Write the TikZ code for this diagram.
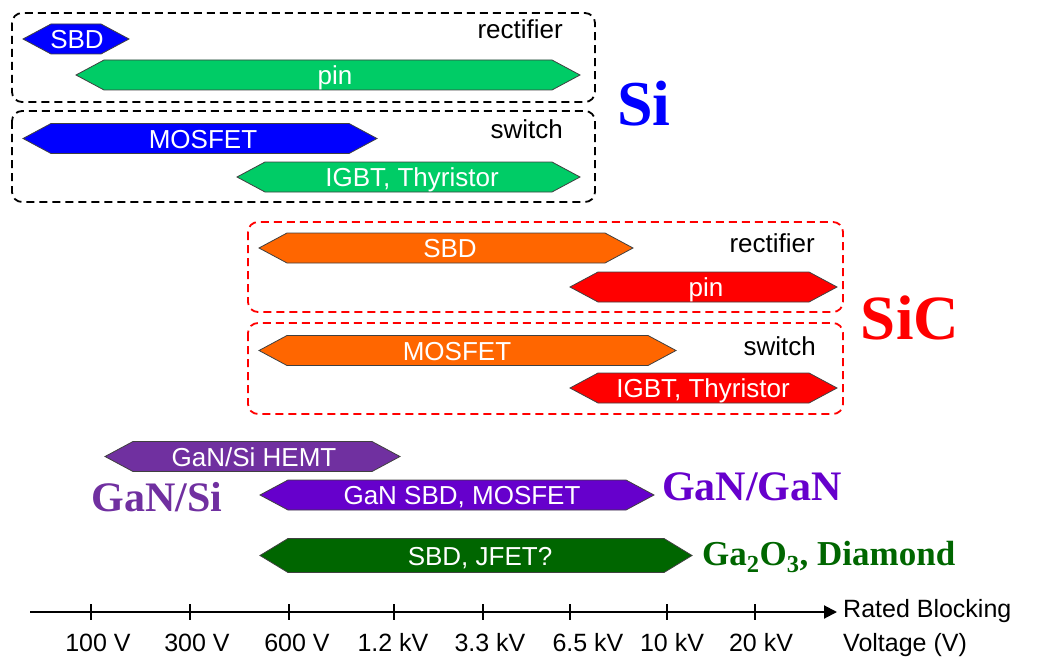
\documentclass[tikz,border=0pt]{standalone}
\usepackage{fontspec}
\setmainfont{Liberation Sans}
\newfontfamily\tms{Liberation Serif}
\usetikzlibrary{arrows.meta}
\definecolor{sib}{RGB}{0,0,255}
\definecolor{sig}{RGB}{0,204,102}
\definecolor{sico}{RGB}{255,102,0}
\definecolor{sicr}{RGB}{255,0,0}
\definecolor{gsi}{RGB}{112,48,160}
\definecolor{ggan}{RGB}{102,0,204}
\definecolor{gox}{RGB}{0,102,0}
\newcommand{\bpd}{28}
% #1 half height, #2 name, #3 left tip, #4 right tip, #5 y centre, #6 colour, #7 text, #8 text x
\newcommand{\devbar}[8][15]{%
  \filldraw[barshape, fill=#6] (#3,#5) -- ({#3+\bpd},{#5-#1}) -- ({#4-\bpd},{#5-#1}) -- (#4,#5)
     -- ({#4-\bpd},{#5+#1}) -- ({#3+\bpd},{#5+#1}) -- cycle;
  \node[bartext] (#2) at (#8,{#5+9.5}) {#7};}
\tikzset{
  barshape/.style={draw=black!75, line width=0.8pt},
  bartext/.style={anchor=base, inner sep=0pt, text=white, font=\fontsize{26}{30}\selectfont},
  grouplab/.style={anchor=base east, inner sep=0pt, font=\fontsize{26}{30}\selectfont},
  sibox/.style={draw=black, line width=1.8pt, dash pattern=on 8pt off 5pt, rounded corners=10pt},
  sicbox/.style={draw=sicr, line width=1.8pt, dash pattern=on 8pt off 5pt, rounded corners=10pt},
  matlab/.style={anchor=base, inner sep=0pt, font=\tms\bfseries},
  axlab/.style={anchor=base, inner sep=0pt, font=\fontsize{25}{30}\selectfont},
  axline/.style={line width=2pt},
}
\begin{document}
\begin{tikzpicture}[x=1pt,y=-1pt]
\useasboundingbox (0,0) rectangle (1038,658);
% Si
\draw[sibox] (12,13) rectangle (595,102);
\draw[sibox] (12,111) rectangle (595,202);
\devbar{sisbd}{23}{129}{39}{sib}{SBD}{77}
\devbar{sipin}{76}{580}{75}{sig}{pin}{335}
\devbar{simos}{23}{377}{138.5}{sib}{MOSFET}{203}
\devbar{siigbt}{237}{580}{177}{sig}{IGBT, Thyristor}{412}
\node[grouplab] (sirect) at (563,39) {rectifier};
\node[grouplab] (sisw) at (563,139) {switch};
\node[matlab, text=sib, font=\tms\bfseries\fontsize{64}{70}\selectfont] (si) at (644,126) {Si};
% SiC
\draw[sicbox] (248,222) rectangle (843,312);
\draw[sicbox] (248,323) rectangle (843,414);
\devbar{sicsbd}{259}{633}{248}{sico}{SBD}{450}
\devbar{sicpin}{570}{837}{287}{sicr}{pin}{706}
\devbar{sicmos}{259}{676}{350.5}{sico}{MOSFET}{457}
\devbar{sicigbt}{570}{837}{388}{sicr}{IGBT, Thyristor}{703}
\node[grouplab] (sicrect) at (815,252) {rectifier};
\node[grouplab] (sicsw) at (816,355) {switch};
\node[matlab, text=sicr, font=\tms\bfseries\fontsize{63}{70}\selectfont] (sic) at (910,339) {SiC};
% GaN and others
\devbar{hemt}{105}{400}{456.5}{gsi}{GaN/Si HEMT}{254}
\devbar{gansbd}{260}{654}{495}{ggan}{GaN SBD, MOSFET}{462}
\devbar[17]{oxsbd}{260}{692}{555.5}{gox}{SBD, JFET?}{480}
\node[matlab, text=gsi, font=\tms\bfseries\fontsize{42}{48}\selectfont] (gansi) at (157,511) {GaN/Si};
\node[matlab, text=ggan, font=\tms\bfseries\fontsize{42}{48}\selectfont] (gangan) at (752,500) {GaN/GaN};
\node[matlab, anchor=base west, text=gox, font=\tms\bfseries\fontsize{35}{40}\selectfont] (gaox) at (702,565) {Ga\textsubscript{2}O\textsubscript{3}, Diamond};
% axis
\coordinate (a0) at (30,612);
\coordinate (a1) at (837,612);
\draw[axline, -{Triangle[length=13pt,width=13pt]}] (a0) -- (a1);
\foreach \tx in {91,190,289,394,483,570,667,755}{
  \draw[axline] (\tx,604) -- (\tx,620);
}
\node[axlab] (l1) at (98,651) {100 V};
\node[axlab] (l2) at (197,651) {300 V};
\node[axlab] (l3) at (297,651) {600 V};
\node[axlab] (l4) at (393,651) {1.2 kV};
\node[axlab] (l5) at (490,651) {3.3 kV};
\node[axlab] (l6) at (588,651) {6.5 kV};
\node[axlab] (l7) at (672,651) {10 kV};
\node[axlab] (l8) at (761,651) {20 kV};
\node[axlab, anchor=base west] (axt1) at (843,617) {Rated Blocking};
\node[axlab, anchor=base west] (axt2) at (843,651) {Voltage (V)};
\end{tikzpicture}
\end{document}
